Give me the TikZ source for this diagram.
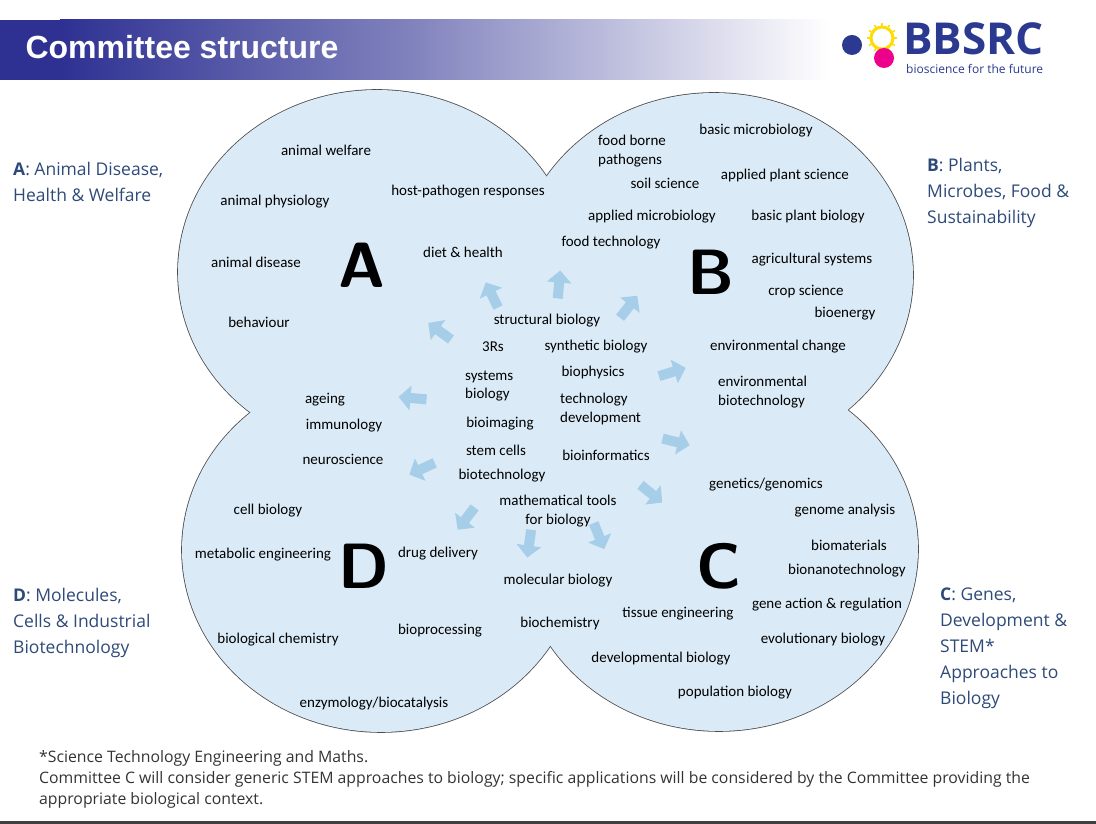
\documentclass[tikz,border=0pt]{standalone}
\usepackage{fontspec}
\setmainfont{Carlito}
\newfontfamily\sidefont{Open Sans}
\newfontfamily\hdfont{Liberation Sans}
\usepackage{tikz}
\usetikzlibrary{positioning,arrows.meta}

\definecolor{hdrblue}{HTML}{2E3192}
\definecolor{lobefill}{HTML}{DAEAF6}
\definecolor{arrowblue}{HTML}{A6CEE8}
\definecolor{sideblue}{HTML}{2E4A78}
\definecolor{navy}{HTML}{2B3990}

\begin{document}
\begin{tikzpicture}[
	x=1pt, y=1pt
	,lbl/.style={font=\fontsize{15}{18.5}\selectfont, align=center, inner sep=0pt}
	,lbll/.style={lbl, align=left, anchor=west}
	,big/.style={font=\sffamily\bfseries\fontsize{64}{64}\selectfont, inner sep=0pt}
	,side/.style={font=\sidefont\fontsize{17.5}{26}\selectfont, text=sideblue, align=left, anchor=north west, inner sep=0pt}
	,blockarrow/.style={draw=arrowblue, line width=10pt, -{Triangle[length=12pt, width=24pt]}}
]
	\useasboundingbox (0,0) rectangle (1096,824);
	% header
	\fill[hdrblue] (0,744) rectangle (61,804);
	\shade[left color=hdrblue, right color=hdrblue!60] (60,744) rectangle (416,804);
	\shade[left color=hdrblue!60, right color=white] (415,744) rectangle (830,804);
	\node[anchor=west, text=white, font=\hdfont\bfseries\fontsize{32}{32}\selectfont] (title) at (22,777) {Committee structure};
	% logo
	\fill[navy] (852,779) circle (10);
	\foreach \a in {0,30,...,330}
		\draw[yellow!80!orange, line width=1.5pt] (882,786)+(\a:11) -- +(\a:15);
	\draw[yellow!80!orange, line width=3pt, fill=white] (882,786) circle (11);
	\fill[magenta] (884,766) circle (10);
	\node[anchor=west, text=navy, font=\sidefont\bfseries\fontsize{44}{44}\selectfont, inner sep=0pt] (logo) at (903,785) {BBSRC};
	\node[anchor=west, text=navy, font=\sidefont\fontsize{12}{12}\selectfont, inner sep=0pt] (tagline) at (906,755) {bioscience for the future};
	% four lobes: outline, then fill over the inner strokes
	\foreach \c in {(377,552), (714,549), (719,275), (381,274)}
		\draw[fill=lobefill, draw=black!70, line width=1.6pt] \c ellipse [x radius=199, y radius=182];
	\foreach \c in {(377,552), (714,549), (719,275), (381,274)}
		\fill[lobefill] \c ellipse [x radius=199, y radius=182];
	\fill[lobefill] (460,330) rectangle (640,500);
	% arrows
	\coordinate (ctr) at (548,414);
	\foreach \a/\r in {116/128, 85/126, 52/131, 144/134, 17/130, 175/136, -14/132, -155/139, -39/133, -127/136, -98/135, -68/136}
		\draw[blockarrow] (ctr)+(\a:\r-14) -- +(\a:\r+14);
	% lobe letters
	\node[big] (A) at (362,559) {A};
	\node[big] (B) at (711,552) {B};
	\node[big] (C) at (719,258) {C};
	\node[big] (D) at (364,258) {D};
	% lobe A
	\node[lbl] (welfare) at (326,674) {animal welfare};
	\node[lbl] (physiology) at (275,622) {animal physiology};
	\node[lbl] (hostpath) at (468,632) {host-pathogen responses};
	\node[lbl] (disease) at (256,562) {animal disease};
	\node[lbl] (diet) at (463,572) {diet \& health};
	\node[lbl] (behaviour) at (259,502) {behaviour};
	% lobe B
	\node[lbll] (foodborne) at (598,673) {food borne\\pathogens};
	\node[lbl] (basicmicro) at (756,693) {basic microbiology};
	\node[lbl] (soil) at (665,641) {soil science};
	\node[lbl] (applplant) at (785,648) {applied plant science};
	\node[lbl] (applmicro) at (652,607) {applied microbiology};
	\node[lbl] (basicplant) at (808,607) {basic plant biology};
	\node[lbl] (foodtech) at (611,581) {food technology};
	\node[lbl] (agri) at (812,564) {agricultural systems};
	\node[lbl] (crop) at (806,532) {crop science};
	\node[lbl] (bioenergy) at (845,510) {bioenergy};
	\node[lbl] (envchange) at (778,477) {environmental change};
	\node[lbll] (envbiotech) at (718,432) {environmental\\biotechnology};
	% centre
	\node[lbl] (structural) at (547,503) {structural biology};
	\node[lbl] (threeRs) at (493,477) {3Rs};
	\node[lbl] (synthetic) at (596,477) {synthetic biology};
	\node[lbll] (systems) at (465,438) {systems\\biology};
	\node[lbl] (biophysics) at (593,451) {biophysics};
	\node[lbll] (techdev) at (560,415) {technology\\development};
	\node[lbl] (bioimaging) at (500,400) {bioimaging};
	\node[lbl] (stemcells) at (496,374) {stem cells};
	\node[lbl] (bioinf) at (606,369) {bioinformatics};
	\node[lbl] (biotech) at (502,348) {biotechnology};
	\node[lbl] (mathtools) at (558,313) {mathematical tools\\for biology};
	% lobe D
	\node[lbl] (ageing) at (325,424) {ageing};
	\node[lbl] (immunology) at (344,398) {immunology};
	\node[lbl] (neuro) at (343,365) {neuroscience};
	\node[lbl] (cellbio) at (268,313) {cell biology};
	\node[lbl] (metabolic) at (263,269) {metabolic engineering};
	\node[lbl] (drug) at (438,270) {drug delivery};
	\node[lbl] (bioprocessing) at (440,193) {bioprocessing};
	\node[lbl] (biolchem) at (278,184) {biological chemistry};
	\node[lbl] (enzymology) at (374,120) {enzymology/biocatalysis};
	% lobe C
	\node[lbl] (genetics) at (766,339) {genetics/genomics};
	\node[lbl] (genome) at (845,313) {genome analysis};
	\node[lbl] (biomaterials) at (849,279) {biomaterials};
	\node[lbl] (molbio) at (558,243) {molecular biology};
	\node[lbl] (bionano) at (847,253) {bionanotechnology};
	\node[lbl] (geneaction) at (827,219) {gene action \& regulation};
	\node[lbl] (tissue) at (678,210) {tissue engineering};
	\node[lbl] (biochem) at (560,200) {biochemistry};
	\node[lbl] (evolution) at (823,184) {evolutionary biology};
	\node[lbl] (develop) at (661,165) {developmental biology};
	\node[lbl] (population) at (735,131) {population biology};
	% committee names
	\node[side] (sideA) at (13,662) {\textbf{A}: Animal Disease,\\Health \& Welfare};
	\node[side] (sideB) at (927,666) {\textbf{B}: Plants,\\Microbes, Food \&\\Sustainability};
	\node[side] (sideC) at (940,236) {\textbf{C}: Genes,\\Development \&\\STEM*\\Approaches to\\Biology};
	\node[side] (sideD) at (13,236) {\textbf{D}: Molecules,\\Cells \& Industrial\\Biotechnology};
	% footnote
	\node[anchor=north west, align=left, inner sep=0pt, text=black!80, font=\sidefont\fontsize{15.8}{21}\selectfont] (footnote) at (39,74)
		{*Science Technology Engineering and Maths.\\Committee C will consider generic STEM approaches to biology; specific applications will be considered by the Committee providing the\\appropriate biological context.};
	\fill[black!75] (0,0) rectangle (1096,3);
\end{tikzpicture}
\end{document}
